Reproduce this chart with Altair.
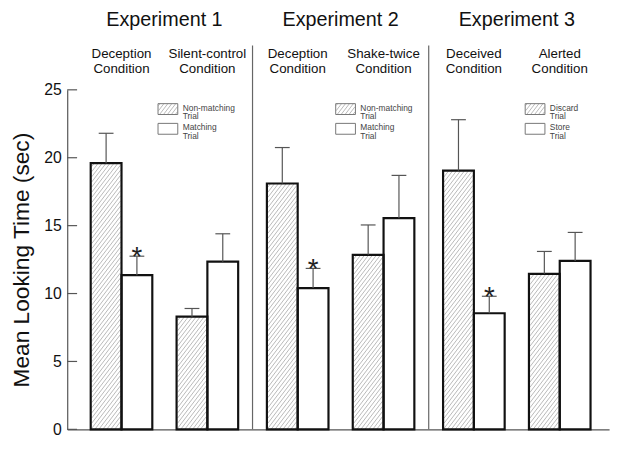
import altair as alt
import pandas as pd
import numpy as np

# ---------------- data ----------------
experiments = ["Experiment 1", "Experiment 2", "Experiment 3"]
conditions = [
    ["Deception\nCondition", "Silent-control\nCondition"],
    ["Deception\nCondition", "Shake-twice\nCondition"],
    ["Deceived\nCondition", "Alerted\nCondition"],
]
legend_labels = [
    ["Non-matching\nTrial", "Matching\nTrial"],
    ["Non-matching\nTrial", "Matching\nTrial"],
    ["Discard\nTrial", "Store\nTrial"],
]
# mean looking time per experiment / condition: [hatched trial, open trial]
means = [
    [[19.6, 11.35], [8.3, 12.35]],
    [[18.1, 10.4], [12.85, 15.55]],
    [[19.05, 8.55], [11.45, 12.4]],
]
# top of the (upper) error bar
err_tops = [
    [[21.8, 12.75], [8.9, 14.4]],
    [[20.75, 11.85], [15.05, 18.7]],
    [[22.8, 9.8], [13.1, 14.5]],
]
# significance star on the open bar
stars = [[True, False], [True, False], [True, False]]
y_ticks = [0, 5, 10, 15, 20, 25]

# ---------------- layout ----------------
PLOT_W, PLOT_H, YMAX = 549, 344, 25
FIRST, COND_STEP, EXP_STEP, BAR_W = 55, 87, 178.5, 31.2
CAP_W = 15
LEG_LEFT = [92, 272, 464]
HATCH_DX, HATCH_SLOPE = 4.0, 1.3
FONT = "Liberation Sans"


def ydat(px_up):
    return px_up / PLOT_H * YMAX


def hatch(xl, xr, yb, yt):
    """diagonal hatch segments inside a rectangle given in x units / y-up pixels"""
    rows = []
    w, h = xr - xl, yt - yb
    step = HATCH_DX * HATCH_SLOPE
    for k in np.arange(-w * HATCH_SLOPE + step / 2, h, step):
        xa = max(0.0, -k / HATCH_SLOPE)
        xb = min(w, (h - k) / HATCH_SLOPE)
        if xb > xa:
            rows.append({
                "hx": xl + xa, "hx2": xl + xb,
                "hy": ydat(yb + HATCH_SLOPE * xa + k),
                "hy2": ydat(yb + HATCH_SLOPE * xb + k),
            })
    return rows


bars, errs, star_rows, cond_rows, exp_rows, hatch_rows = [], [], [], [], [], []
leg_boxes, leg_text = [], []
for e in range(3):
    for c in range(2):
        center = FIRST + EXP_STEP * e + COND_STEP * c
        cond_rows.append({"cx": center, "label": conditions[e][c]})
        for t in range(2):
            x0 = center - BAR_W + BAR_W * t
            x1 = x0 + BAR_W
            v = means[e][c][t]
            bars.append({"bx": x0, "bx2": x1, "val": v, "zero": 0.0})
            mid = (x0 + x1) / 2
            errs.append({"ex": mid, "ex0": mid - CAP_W / 2, "ex1": mid + CAP_W / 2,
                         "lo": v, "hi": err_tops[e][c][t]})
            if t == 0:
                hatch_rows += hatch(x0 + 1, x1 - 1, 0, v / YMAX * PLOT_H)
            if t == 1 and stars[e][c]:
                star_rows.append({"sx": mid, "sy": err_tops[e][c][t]})
    exp_rows.append({"tx": FIRST + EXP_STEP * e + COND_STEP / 2, "title": experiments[e]})
    lx = LEG_LEFT[e]
    leg_boxes.append({"lx": lx, "lx2": lx + 20, "ly": ydat(PLOT_H - 25), "ly2": ydat(PLOT_H - 14)})
    leg_boxes.append({"lx": lx, "lx2": lx + 20, "ly": ydat(PLOT_H - 45), "ly2": ydat(PLOT_H - 34)})
    hatch_rows += hatch(lx + 0.5, lx + 19.5, PLOT_H - 25, PLOT_H - 14)
    leg_text.append({"gx": lx + 25, "gy": ydat(PLOT_H - 18), "txt": legend_labels[e][0]})
    leg_text.append({"gx": lx + 25, "gy": ydat(PLOT_H - 38), "txt": legend_labels[e][1]})

dividers = pd.DataFrame({"dx": [FIRST + COND_STEP + (EXP_STEP - COND_STEP) / 2 + EXP_STEP * i for i in range(2)]})

bars_df = pd.DataFrame(bars)
errs_df = pd.DataFrame(errs)

XS = alt.Scale(domain=[0, PLOT_W], nice=False, zero=False)
YS = alt.Scale(domain=[0, YMAX], nice=False)
XA = alt.Axis(labels=False, ticks=False, grid=False, title=None,
              domainColor="#555", domainWidth=1.2)
YA = alt.Axis(values=y_ticks, grid=False, ticks=False,
              labelFontSize=16, labelColor="#111", labelPadding=6,
              domainColor="#555", domainWidth=1.2,
              title="Mean Looking Time (sec)", titleFontSize=23,
              titleFontWeight="normal", titleColor="#111", titlePadding=10)


def X(f):
    return alt.X(f, scale=XS, axis=XA)


def Y(f):
    return alt.Y(f, scale=YS, axis=YA)


bar_fill = alt.Chart(bars_df).mark_bar(fill="white", stroke=None).encode(
    x=X("bx:Q"), x2="bx2:Q", y=Y("val:Q"), y2="zero:Q",
)
bar_outline = alt.Chart(bars_df).mark_bar(fillOpacity=0, stroke="#111", strokeWidth=2.2).encode(
    x=X("bx:Q"), x2="bx2:Q", y=Y("val:Q"), y2="zero:Q",
)

hatch_layer = alt.Chart(pd.DataFrame(hatch_rows)).mark_rule(color="#a8a8a8", strokeWidth=0.8).encode(
    x=X("hx:Q"), x2="hx2:Q", y=Y("hy:Q"), y2="hy2:Q",
)

stem = alt.Chart(errs_df).mark_rule(color="#555", strokeWidth=1.2).encode(
    x=X("ex:Q"), y=Y("lo:Q"), y2="hi:Q",
)
cap = alt.Chart(errs_df).mark_rule(color="#555", strokeWidth=1.2).encode(
    x=X("ex0:Q"), x2="ex1:Q", y=Y("hi:Q"),
)
star_layer = alt.Chart(pd.DataFrame(star_rows)).mark_text(
    text="*", fontSize=28, baseline="alphabetic", dy=10, color="#222", font=FONT
).encode(x=X("sx:Q"), y=Y("sy:Q"))

ticks_layer = alt.Chart(pd.DataFrame({"tv": y_ticks})).mark_rule(color="#555", strokeWidth=1.2).encode(
    x=alt.value(0), x2=alt.value(10), y=Y("tv:Q")
)

div_layer = alt.Chart(dividers).mark_rule(color="#666", strokeWidth=1.2).encode(
    x=X("dx:Q"), y=alt.value(-45), y2=alt.value(PLOT_H)
)

exp_layer = alt.Chart(pd.DataFrame(exp_rows)).mark_text(
    fontSize=20, baseline="middle", color="#111", font=FONT
).encode(x=X("tx:Q"), y=alt.value(-71), text="title:N")

cond_layer = alt.Chart(pd.DataFrame(cond_rows)).mark_text(
    fontSize=13.5, baseline="middle", lineBreak="\n", lineHeight=15, color="#111", font=FONT
).encode(x=X("cx:Q"), y=alt.value(-36.5), text="label:N")

leg_box_layer = alt.Chart(pd.DataFrame(leg_boxes)).mark_rect(
    fillOpacity=0, stroke="#777", strokeWidth=1
).encode(x=X("lx:Q"), x2="lx2:Q", y=Y("ly:Q"), y2="ly2:Q")

leg_text_layer = alt.Chart(pd.DataFrame(leg_text)).mark_text(
    fontSize=8.5, align="left", baseline="middle", lineBreak="\n", lineHeight=9, color="#444", font=FONT
).encode(x=X("gx:Q"), y=Y("gy:Q"), text="txt:N")

chart = alt.layer(
    bar_fill, hatch_layer, bar_outline, stem, cap, star_layer, ticks_layer, div_layer,
    exp_layer, cond_layer, leg_box_layer, leg_text_layer
).properties(
    width=PLOT_W, height=PLOT_H,
    autosize=alt.AutoSizeParams(type="none"),
    padding={"left": 60, "top": 80, "right": 7, "bottom": 17},
).configure(font=FONT).configure_view(stroke=None)

chart.save("out.html", embed_options={"renderer": "svg", "actions": False})
